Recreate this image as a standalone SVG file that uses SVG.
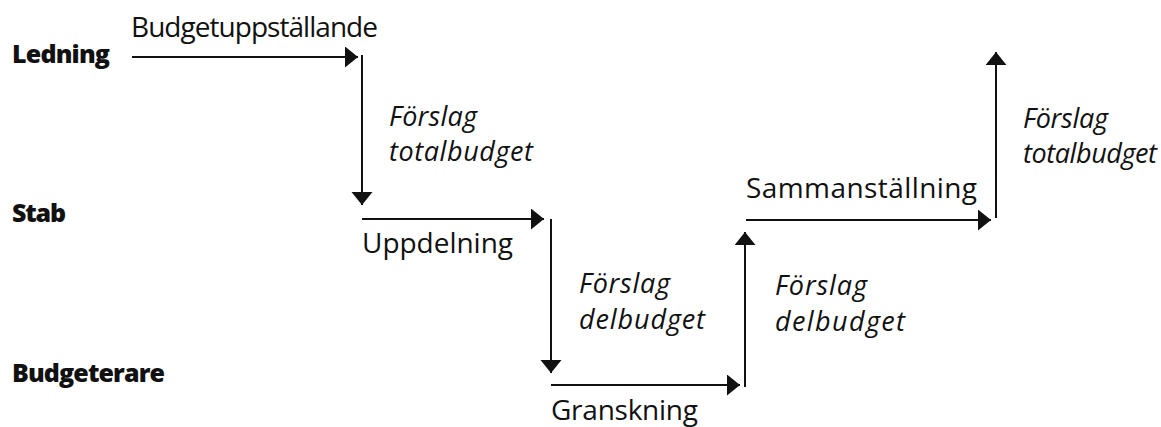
<svg xmlns="http://www.w3.org/2000/svg" width="1161" height="427" viewBox="0 0 1161 427">
<style>
text{font-family:"Open Sans","Noto Sans","Liberation Sans",sans-serif;fill:#111;}
.lvl{font-weight:800;font-size:25px;}
.act{font-size:28px;}
.doc{font-size:27px;font-style:italic;}
.c{stroke:#111;stroke-width:2;fill:none;marker-end:url(#ah);}
</style>
<defs>
<marker id="ah" markerUnits="userSpaceOnUse" markerWidth="14" markerHeight="22" refX="13" refY="10.5" orient="auto">
<path d="M0,0 L13,10.5 L0,21 z" fill="#111"/>
</marker>
</defs>
<rect width="1161" height="427" fill="#fff"/>
<g id="levels">
<g id="ledning"><text class="lvl" x="12" y="63" textLength="98">Ledning</text></g>
<g id="stab"><text class="lvl" x="12" y="222" textLength="54">Stab</text></g>
<g id="budgeterare"><text class="lvl" x="12" y="382" textLength="153">Budgeterare</text></g>
</g>
<g id="budgetuppstallande"><text class="act" x="131" y="37" textLength="247">Budgetuppställande</text></g>
<g id="forslag-total-1"><text class="doc" x="389" y="126" textLength="88">Förslag</text><text class="doc" x="389" y="161" textLength="144">totalbudget</text></g>
<g id="uppdelning"><text class="act" x="362" y="253" textLength="151">Uppdelning</text></g>
<g id="forslag-del-1"><text class="doc" x="579" y="293" textLength="91">Förslag</text><text class="doc" x="579" y="329" textLength="126">delbudget</text></g>
<g id="granskning"><text class="act" x="551" y="420" textLength="147">Granskning</text></g>
<g id="forslag-del-2"><text class="doc" x="775" y="295" textLength="92">Förslag</text><text class="doc" x="775" y="331" textLength="130">delbudget</text></g>
<g id="sammanstallning"><text class="act" x="746" y="198" textLength="231">Sammanställning</text></g>
<g id="forslag-total-2"><text class="doc" x="1023" y="128" textLength="85">Förslag</text><text class="doc" x="1023" y="163" textLength="134">totalbudget</text></g>
<g id="connectors">
<line class="c" x1="132" y1="57" x2="358" y2="57"/>
<line class="c" x1="362" y1="55" x2="362" y2="205"/>
<line class="c" x1="362" y1="219" x2="544" y2="219"/>
<line class="c" x1="551" y1="219" x2="551" y2="373"/>
<line class="c" x1="551" y1="385" x2="740" y2="385"/>
<line class="c" x1="745" y1="387" x2="745" y2="232"/>
<line class="c" x1="746" y1="220" x2="991" y2="220"/>
<line class="c" x1="996" y1="218" x2="996" y2="52"/>
</g>
</svg>
